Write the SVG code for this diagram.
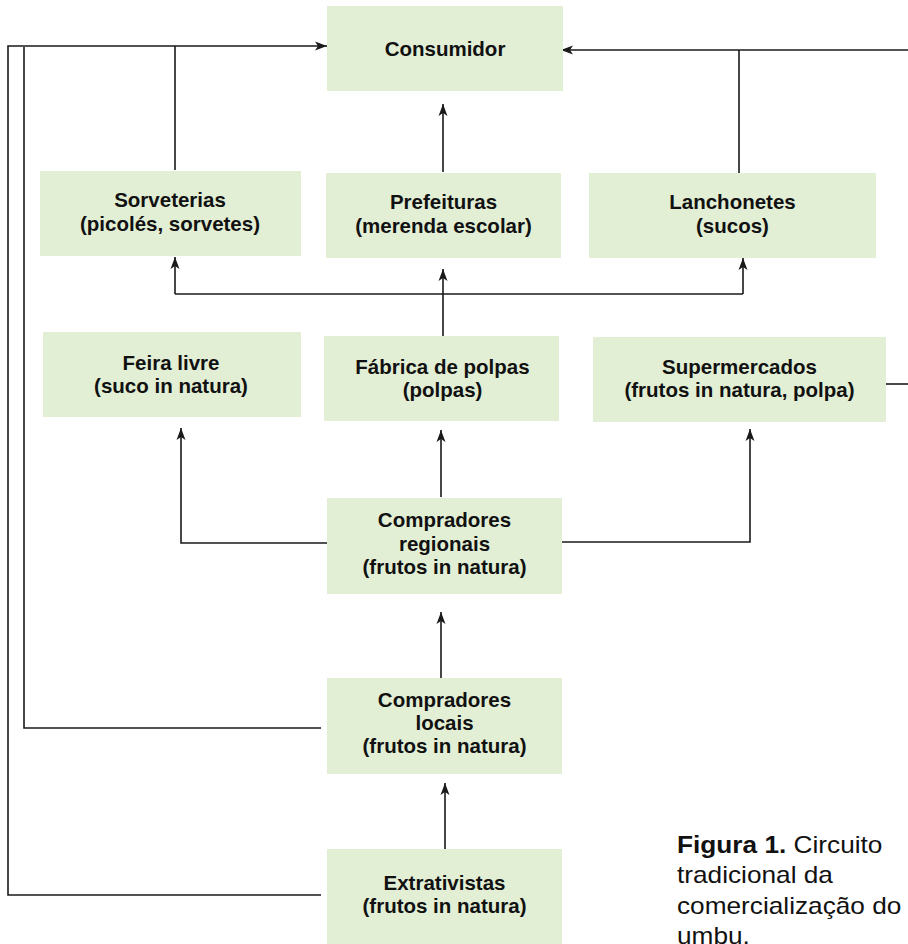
<svg xmlns="http://www.w3.org/2000/svg" width="908" height="944" viewBox="0 0 908 944">
<style>
.box{fill:#e2efd5;}
.lbl{font-family:"Liberation Sans",Arial,sans-serif;font-weight:bold;font-size:20.5px;fill:#111;text-anchor:middle;}
.cn{fill:none;stroke:#1a1a1a;stroke-width:1.6;}
.cap{font-family:"Liberation Sans",Arial,sans-serif;font-size:23px;fill:#111;}
</style>
<defs>
<marker id="ah" viewBox="0 -5 12 10" refX="12" refY="0" markerWidth="12" markerHeight="10" markerUnits="userSpaceOnUse" orient="auto">
<path d="M0,-4.5 L12,0 L0,4.5 L3,0 Z" fill="#1a1a1a"/>
</marker>
</defs>
<rect width="908" height="944" fill="#ffffff"/>
<g id="connectors">
<path class="cn" d="M321,895 H8 V46 H327" marker-end="url(#ah)"/>
<path class="cn" d="M321,728 H24 V47"/>
<path class="cn" d="M175,170 V46"/>
<path class="cn" d="M908,50 H561" marker-end="url(#ah)"/>
<path class="cn" d="M739,173 V50"/>
<path class="cn" d="M886,384 H908"/>
<path class="cn" d="M443,172 V104" marker-end="url(#ah)"/>
<path class="cn" d="M443,336 V269" marker-end="url(#ah)"/>
<path class="cn" d="M175,294 H743"/>
<path class="cn" d="M175,294 V257" marker-end="url(#ah)"/>
<path class="cn" d="M743,294 V258" marker-end="url(#ah)"/>
<path class="cn" d="M327,543 H181 V428" marker-end="url(#ah)"/>
<path class="cn" d="M441,497 V430" marker-end="url(#ah)"/>
<path class="cn" d="M562,542 H750 V429" marker-end="url(#ah)"/>
<path class="cn" d="M441,678 V612" marker-end="url(#ah)"/>
<path class="cn" d="M445,849 V783" marker-end="url(#ah)"/>
</g>
<g id="consumidor">
<rect class="box" x="327" y="6" width="236" height="85"/>
<text class="lbl" x="445" y="56">Consumidor</text>
</g>
<g id="sorveterias">
<rect class="box" x="40" y="171" width="261" height="85"/>
<text class="lbl" x="170" y="207">Sorveterias</text>
<text class="lbl" x="170" y="231">(picolés, sorvetes)</text>
</g>
<g id="prefeituras">
<rect class="box" x="326" y="173" width="235" height="85"/>
<text class="lbl" x="443.5" y="209">Prefeituras</text>
<text class="lbl" x="443.5" y="233">(merenda escolar)</text>
</g>
<g id="lanchonetes">
<rect class="box" x="589" y="173" width="287" height="85"/>
<text class="lbl" x="732.5" y="209">Lanchonetes</text>
<text class="lbl" x="732.5" y="233">(sucos)</text>
</g>
<g id="feira-livre">
<rect class="box" x="43" y="332" width="258" height="85"/>
<text class="lbl" x="171" y="370">Feira livre</text>
<text class="lbl" x="171" y="393">(suco in natura)</text>
</g>
<g id="fabrica-de-polpas">
<rect class="box" x="324" y="336" width="235" height="85"/>
<text class="lbl" x="442.5" y="374">Fábrica de polpas</text>
<text class="lbl" x="442.5" y="397">(polpas)</text>
</g>
<g id="supermercados">
<rect class="box" x="593" y="337" width="293" height="85"/>
<text class="lbl" x="739.5" y="374">Supermercados</text>
<text class="lbl" x="739.5" y="397">(frutos in natura, polpa)</text>
</g>
<g id="compradores-regionais">
<rect class="box" x="327" y="498" width="235" height="96"/>
<text class="lbl" x="444.5" y="527">Compradores</text>
<text class="lbl" x="444.5" y="551">regionais</text>
<text class="lbl" x="444.5" y="574">(frutos in natura)</text>
</g>
<g id="compradores-locais">
<rect class="box" x="327" y="678" width="235" height="96"/>
<text class="lbl" x="444.5" y="707">Compradores</text>
<text class="lbl" x="444.5" y="730">locais</text>
<text class="lbl" x="444.5" y="753">(frutos in natura)</text>
</g>
<g id="extrativistas">
<rect class="box" x="327" y="849" width="235" height="100"/>
<text class="lbl" x="444.5" y="890">Extrativistas</text>
<text class="lbl" x="444.5" y="913">(frutos in natura)</text>
</g>
<g id="caption" transform="translate(677,0) scale(1.14,1)">
<text class="cap" x="0" y="853"><tspan font-weight="bold">Figura 1.</tspan> Circuito</text>
<text class="cap" x="0" y="883.5">tradicional da</text>
<text class="cap" x="0" y="914">comercialização do</text>
<text class="cap" x="0" y="944.5">umbu.</text>
</g>
</svg>
